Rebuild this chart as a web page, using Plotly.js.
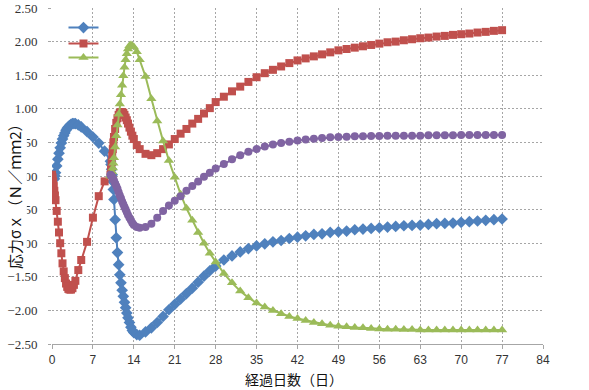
<!DOCTYPE html>
<html>
<head>
<meta charset="utf-8">
<script src="https://cdn.plot.ly/plotly-3.0.1.min.js"></script>
<style>html,body{margin:0;padding:0;background:#fff;}#chart{width:589px;height:390px;}</style>
</head>
<body>
<div id="chart"></div>
<script>
const days = [0,0.1,0.2,0.3,0.4,0.5,0.6,0.8,1.0,1.2,
  1.4,1.6,1.8,2.0,2.2,2.4,2.6,2.8,3.0,3.25,
  3.5,3.75,4.0,4.5,5,6,7,8,9,10,
  10.1,10.2,10.3,10.4,10.5,10.6,10.8,11.0,11.2,11.4,
  11.6,11.8,12.0,12.2,12.4,12.6,12.8,13.0,13.25,13.5,
  13.75,14.0,14.5,15,16,17,18,19,20,21,
  22,23,24,25,26,27,28,
  29.4,30.8,32.2,33.6,35,36.4,37.8,39.2,40.6,42,
  43.4,44.8,46.2,47.6,49,50.4,51.8,53.2,54.6,56,
  57.4,58.8,60.2,61.6,63,64.4,65.8,67.2,68.6,70,
  71.4,72.8,74.2,75.6,77];

const seriesBlue = [0.00,-0.02,-0.04,-0.05,-0.04,0.00,0.05,0.15,0.25,0.34,
  0.42,0.49,0.55,0.60,0.64,0.68,0.71,0.73,0.75,0.77,
  0.78,0.78,0.78,0.76,0.73,0.66,0.58,0.49,0.37,0.22,
  0.17,0.10,0.02,-0.08,-0.20,-0.35,-0.65,-0.92,-1.14,-1.32,
  -1.47,-1.59,-1.70,-1.79,-1.88,-1.96,-2.04,-2.11,-2.18,-2.25,
  -2.30,-2.33,-2.36,-2.37,-2.32,-2.26,-2.18,-2.09,-1.99,-1.91,
  -1.83,-1.75,-1.67,-1.58,-1.49,-1.41,-1.34,
  -1.25,-1.19,-1.13,-1.08,-1.04,-1.01,-0.98,-0.96,-0.93,-0.91,
  -0.89,-0.87,-0.86,-0.84,-0.83,-0.82,-0.80,-0.79,-0.78,-0.77,
  -0.76,-0.75,-0.74,-0.735,-0.73,-0.72,-0.71,-0.705,-0.70,-0.69,
  -0.68,-0.67,-0.66,-0.65,-0.64];

const seriesRed = [0.02,-0.02,-0.08,-0.15,-0.22,-0.29,-0.36,-0.52,-0.68,-0.84,
  -1.00,-1.15,-1.30,-1.42,-1.52,-1.60,-1.65,-1.68,-1.69,-1.69,
  -1.67,-1.62,-1.56,-1.40,-1.25,-0.98,-0.62,-0.30,-0.08,0.02,
  0.10,0.20,0.30,0.40,0.50,0.58,0.70,0.79,0.86,0.91,
  0.94,0.95,0.95,0.94,0.91,0.87,0.83,0.78,0.72,0.66,
  0.60,0.55,0.46,0.40,0.33,0.31,0.34,0.40,0.47,0.55,
  0.63,0.70,0.78,0.85,0.93,1.01,1.10,
  1.18,1.26,1.33,1.40,1.47,1.53,1.58,1.63,1.68,1.72,
  1.75,1.78,1.81,1.84,1.87,1.89,1.91,1.93,1.95,1.97,
  1.99,2.00,2.02,2.035,2.05,2.06,2.075,2.085,2.10,2.11,
  2.12,2.135,2.145,2.16,2.17];

const seriesGreen = [null,null,null,null,null,null,null,null,null,null,
  null,null,null,null,null,null,null,null,null,null,
  null,null,null,null,null,null,null,null,null,0.00,
  0.00,0.02,0.06,0.12,0.19,0.27,0.43,0.60,0.76,0.92,
  1.07,1.21,1.35,1.49,1.62,1.73,1.82,1.89,1.94,1.95,
  1.94,1.92,1.85,1.73,1.48,1.15,0.82,0.52,0.23,-0.02,
  -0.27,-0.48,-0.66,-0.84,-1.00,-1.15,-1.28,
  -1.45,-1.59,-1.71,-1.81,-1.89,-1.95,-2.00,-2.05,-2.09,-2.12,
  -2.15,-2.18,-2.20,-2.22,-2.235,-2.245,-2.255,-2.26,-2.27,-2.275,
  -2.28,-2.28,-2.285,-2.285,-2.29,-2.29,-2.29,-2.29,-2.29,-2.29,
  -2.29,-2.29,-2.29,-2.29,-2.29];

const seriesPurple = [null,null,null,null,null,null,null,null,null,null,
  null,null,null,null,null,null,null,null,null,null,
  null,null,null,null,null,null,null,null,null,0.02,
  0.01,0.00,-0.01,-0.03,-0.05,-0.07,-0.11,-0.15,-0.19,-0.24,
  -0.29,-0.33,-0.38,-0.42,-0.46,-0.50,-0.54,-0.58,-0.62,-0.66,
  -0.70,-0.73,-0.76,-0.77,-0.76,-0.71,-0.62,-0.52,-0.44,-0.37,
  -0.30,-0.22,-0.15,-0.08,-0.01,0.05,0.11,
  0.18,0.25,0.31,0.36,0.40,0.44,0.47,0.49,0.51,0.53,
  0.545,0.555,0.565,0.575,0.58,0.585,0.59,0.59,0.595,0.595,
  0.60,0.60,0.60,0.60,0.60,0.605,0.605,0.605,0.605,0.61,
  0.61,0.61,0.61,0.61,0.61];

const xTitle = '経過日数（日）';
const yTitle = '応力σｘ（Ｎ／ｍｍ2）';

function tr(y, color, symbol, size, legendId) {
  return {
    x: days, y: y, type: 'scatter', mode: 'lines+markers', name: '',
    showlegend: legendId !== null, legend: legendId || 'legend', connectgaps: false,
    line: {color: color, width: 2},
    marker: {color: color, symbol: symbol, size: size, line: {width: 0}}
  };
}

const data = [
  tr(seriesBlue, '#4F81BD', 'diamond', 9, 'legend'),
  tr(seriesRed, '#C0504D', 'square', 8, 'legend2'),
  tr(seriesGreen, '#9BBB59', 'triangle-up', 9, 'legend3'),
  tr(seriesPurple, '#8064A2', 'circle', 8, null)
];

function leg(y) {
  return {x: 0.0234, y: y, xanchor: 'left', yanchor: 'top', bgcolor: 'rgba(0,0,0,0)',
    font: {size: 9}, tracegroupgap: 0, itemwidth: 30};
}

const layout = {
  width: 589, height: 390,
  margin: {l: 52, r: 46, t: 8, b: 46},
  paper_bgcolor: '#ffffff', plot_bgcolor: '#ffffff',
  showlegend: true,
  legend: leg(0.985),
  legend2: leg(0.9375),
  legend3: leg(0.8958),
  xaxis: {
    range: [0, 84], dtick: 7, tick0: 0, fixedrange: true,
    showgrid: true, gridcolor: '#a6a6a6', griddash: '2px,2px', gridwidth: 1,
    zeroline: false, showline: true, linecolor: '#a6a6a6', linewidth: 1,
    ticks: 'outside', ticklen: 4, tickcolor: '#a6a6a6', ticklabelstandoff: 1,
    tickfont: {family: 'Liberation Sans, Arial, sans-serif', size: 12, color: '#333333'}
  },
  yaxis: {
    range: [-2.5, 2.5], dtick: 0.5, tick0: 0, tickformat: '.2f', fixedrange: true,
    showgrid: true, gridcolor: '#a6a6a6', griddash: '2px,2px', gridwidth: 1,
    zeroline: false, showline: false,
    ticks: 'outside', ticklen: 3, tickcolor: '#a6a6a6', ticklabelstandoff: 8,
    tickfont: {family: 'Liberation Serif, Times New Roman, serif', size: 13, color: '#333333'}
  },
  annotations: [
    {text: xTitle, xref: 'paper', yref: 'paper', x: 0.493, y: -0.136,
     xanchor: 'center', yanchor: 'bottom', showarrow: false, borderpad: 0,
     font: {family: 'Noto Sans CJK JP, sans-serif', size: 14, color: '#111111'}},
    {text: yTitle, xref: 'paper', yref: 'paper', x: -0.075, y: 0.45,
     xanchor: 'center', yanchor: 'middle', showarrow: false, textangle: -90,
     bgcolor: '#ffffff', borderpad: 1,
     font: {family: 'Noto Sans CJK JP, sans-serif', size: 15, color: '#111111'}}
  ]
};

Plotly.newPlot('chart', data, layout, {displayModeBar: false, staticPlot: true});
</script>
</body>
</html>
